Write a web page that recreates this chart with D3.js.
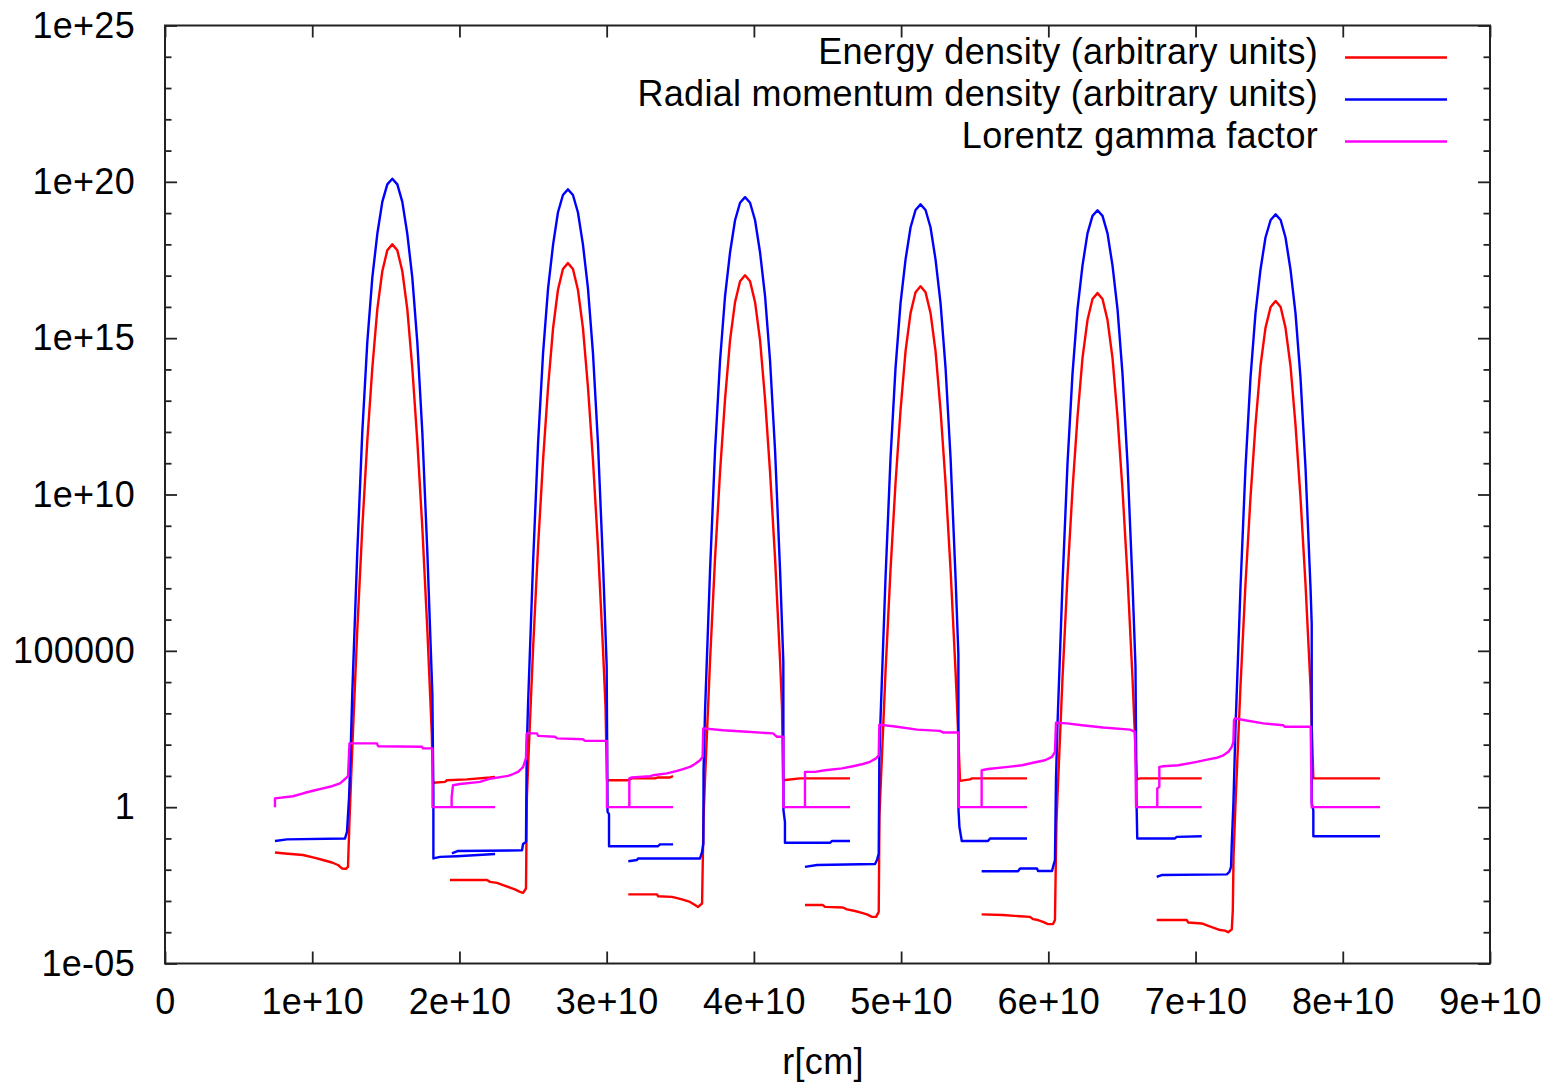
<!DOCTYPE html>
<html>
<head>
<meta charset="utf-8">
<script src="https://cdn.jsdelivr.net/npm/d3@7"></script>
<style>
  body { margin: 0; background: #fff; }
  svg text { font-family: "Liberation Sans", Arial, sans-serif; fill: #000; letter-spacing: 0.3px; }
</style>
</head>
<body>
<svg id="chart" width="1554" height="1085"></svg>
<script>
// Radial profiles of an expanding shell at six snapshots.
// Each point: [r in units of 1e10 cm, log10 of the plotted quantity].

const energy1 = [[0.747,-1.45],[0.815,-1.48],[0.937,-1.53],[1.019,-1.62],[1.073,-1.69],[1.134,-1.77],[1.175,-1.85],[1.202,-1.96],[1.229,-1.97],[1.243,-1.91],
  [1.253,-0.45],[1.272,1.88],[1.306,5.66],[1.340,8.93],[1.374,11.70],[1.408,14.03],[1.442,15.92],[1.476,17.14],[1.510,17.81],[1.544,18.00],[1.578,17.81],[1.612,17.14],[1.646,15.92],[1.680,14.03],[1.714,11.70],[1.748,8.93],[1.782,5.66],[1.812,2.37],
  [1.820,0.78],[1.902,0.81],[1.915,0.86],[2.051,0.89],[2.208,0.95],[2.242,0.97]];
const energy2 = [[1.936,-2.33],[2.187,-2.33],[2.208,-2.39],[2.255,-2.42],[2.296,-2.49],[2.343,-2.57],[2.377,-2.63],[2.411,-2.71],[2.432,-2.74],[2.452,-2.60],
  [2.458,0.30],[2.466,1.28],[2.500,5.06],[2.534,8.33],[2.568,11.10],[2.602,13.43],[2.636,15.32],[2.669,16.54],[2.703,17.21],[2.737,17.40],[2.771,17.21],[2.805,16.54],[2.839,15.32],[2.873,13.43],[2.907,11.10],[2.941,8.33],[2.975,5.06],[2.992,3.23],
  [3.002,0.86],[3.145,0.86],[3.172,0.92],[3.328,0.92],[3.349,0.95],[3.430,0.95],[3.451,0.99]];
const energy3 = [[3.147,-2.79],[3.342,-2.79],[3.349,-2.85],[3.444,-2.87],[3.512,-2.95],[3.566,-3.03],[3.600,-3.13],[3.621,-3.19],[3.648,-3.08],
  [3.658,-0.34],[3.668,0.89],[3.702,4.67],[3.736,7.94],[3.770,10.71],[3.804,13.04],[3.838,14.93],[3.872,16.15],[3.906,16.82],[3.940,17.01],[3.974,16.82],[4.008,16.15],[4.042,14.93],[4.076,13.04],[4.110,10.71],[4.144,7.94],[4.178,4.67],[4.191,3.21],
  [4.198,0.86],[4.313,0.92],[4.653,0.92]];
const energy4 = [[4.347,-3.13],[4.469,-3.13],[4.483,-3.19],[4.605,-3.21],[4.632,-3.27],[4.687,-3.32],[4.734,-3.38],[4.768,-3.43],[4.802,-3.51],[4.830,-3.51],[4.848,-3.35],
  [4.853,-0.27],[4.860,0.54],[4.894,4.32],[4.928,7.59],[4.962,10.36],[4.996,12.69],[5.030,14.58],[5.064,15.80],[5.098,16.47],[5.132,16.66],[5.166,16.47],[5.200,15.80],[5.234,14.58],[5.268,12.69],[5.302,10.36],[5.336,7.59],[5.370,4.32],[5.380,3.24],
  [5.400,0.84],[5.468,0.89],[5.482,0.92],[5.855,0.92]];
const energy5 = [[5.547,-3.43],[5.692,-3.45],[5.808,-3.49],[5.876,-3.51],[5.896,-3.58],[5.930,-3.61],[5.964,-3.67],[5.998,-3.74],[6.032,-3.74],[6.045,-3.61],
  [6.055,-0.49],[6.062,0.32],[6.096,4.10],[6.130,7.37],[6.164,10.14],[6.198,12.47],[6.232,14.36],[6.266,15.58],[6.300,16.25],[6.334,16.44],[6.368,16.25],[6.402,15.58],[6.436,14.36],[6.470,12.47],[6.504,10.14],[6.538,7.37],[6.572,4.10],[6.585,2.64],
  [6.600,0.89],[6.623,0.92],[7.042,0.92]];
const energy6 = [[6.736,-3.61],[6.940,-3.61],[6.951,-3.69],[7.042,-3.72],[7.087,-3.80],[7.120,-3.85],[7.166,-3.93],[7.200,-3.95],[7.222,-4.00],[7.246,-3.91],
  [7.253,-3.30],[7.258,-1.59],[7.271,0.07],[7.305,3.85],[7.339,7.12],[7.373,9.89],[7.407,12.22],[7.441,14.11],[7.475,15.33],[7.510,16.00],[7.544,16.19],[7.578,16.00],[7.611,15.33],[7.645,14.11],[7.679,12.22],[7.713,9.89],[7.747,7.12],[7.781,3.85],
  [7.800,0.92],[8.253,0.92]];

const momentum1 = [[0.747,-1.08],[0.829,-1.03],[1.223,-1.00],[1.236,-0.79],
  [1.250,0.30],[1.259,1.50],[1.272,3.63],[1.306,8.14],[1.340,11.98],[1.374,14.86],[1.408,16.93],[1.442,18.33],[1.476,19.36],[1.510,19.92],[1.544,20.10],[1.578,19.92],[1.612,19.36],[1.646,18.33],[1.680,16.93],[1.714,14.86],[1.748,11.98],[1.782,8.14],[1.816,3.63],[1.823,0.45],
  [1.823,-1.64],[1.868,-1.59],[1.983,-1.57],[2.242,-1.50]];
const momentum2 = [[1.949,-1.48],[1.990,-1.40],[2.425,-1.38],[2.432,-1.18],[2.452,-1.11],
  [2.457,1.87],[2.466,3.29],[2.500,7.80],[2.534,11.64],[2.568,14.52],[2.602,16.59],[2.636,17.99],[2.669,19.02],[2.703,19.58],[2.737,19.76],[2.771,19.58],[2.805,19.02],[2.839,17.99],[2.873,16.59],[2.907,14.52],[2.941,11.64],[2.975,7.80],[3.000,4.53],[3.006,-0.15],[3.016,-0.22],
  [3.016,-1.25],[3.349,-1.25],[3.362,-1.19],[3.451,-1.19]];
const momentum3 = [[3.147,-1.73],[3.206,-1.69],[3.213,-1.64],[3.634,-1.64],[3.648,-1.43],[3.657,-1.16],
  [3.658,1.16],[3.668,3.04],[3.702,7.55],[3.736,11.39],[3.770,14.27],[3.804,16.34],[3.838,17.74],[3.872,18.77],[3.906,19.33],[3.940,19.51],[3.974,19.33],[4.008,18.77],[4.042,17.74],[4.076,16.34],[4.110,14.27],[4.144,11.39],[4.178,7.55],[4.200,4.64],[4.201,-0.10],[4.211,-0.48],
  [4.211,-1.14],[4.517,-1.14],[4.531,-1.08],[4.653,-1.08]];
const momentum4 = [[4.347,-1.91],[4.429,-1.85],[4.823,-1.82],[4.836,-1.69],[4.848,-1.48],
  [4.852,1.48],[4.860,2.81],[4.894,7.32],[4.928,11.16],[4.962,14.04],[4.996,16.11],[5.030,17.51],[5.064,18.54],[5.098,19.10],[5.132,19.28],[5.166,19.10],[5.200,18.54],[5.234,17.51],[5.268,16.11],[5.302,14.04],[5.336,11.16],[5.370,7.32],[5.389,4.88],[5.390,-0.10],[5.396,-0.63],
  [5.412,-1.08],[5.590,-1.08],[5.604,-1.00],[5.855,-1.00]];
const momentum5 = [[5.547,-2.05],[5.794,-2.05],[5.808,-1.96],[5.923,-1.96],[5.930,-2.04],[6.025,-2.04],[6.032,-1.91],[6.045,-1.69],
  [6.052,0.92],[6.062,2.62],[6.096,7.13],[6.130,10.97],[6.164,13.85],[6.198,15.92],[6.232,17.32],[6.266,18.35],[6.300,18.91],[6.334,19.09],[6.368,18.91],[6.402,18.35],[6.436,17.32],[6.470,15.92],[6.504,13.85],[6.538,10.97],[6.572,7.13],[6.592,4.50],[6.599,0.17],
  [6.604,-1.00],[6.860,-1.00],[6.872,-0.95],[7.042,-0.93]];
const momentum6 = [[6.736,-2.23],[6.770,-2.17],[7.212,-2.15],[7.230,-2.07],[7.241,-1.91],[7.246,-1.16],
  [7.257,0.11],[7.271,2.49],[7.305,7.00],[7.339,10.84],[7.373,13.72],[7.407,15.79],[7.441,17.19],[7.475,18.22],[7.510,18.78],[7.544,18.96],[7.578,18.78],[7.611,18.22],[7.645,17.19],[7.679,15.79],[7.713,13.72],[7.747,10.84],[7.781,7.00],[7.789,5.86],[7.789,0.13],[7.800,-0.10],
  [7.800,-0.93],[8.253,-0.93]];

const gamma1 = [[0.747,0],[0.747,0.28],[0.869,0.35],[0.951,0.46],[1.019,0.54],[1.073,0.60],[1.134,0.67],[1.189,0.76],[1.223,0.90],[1.243,0.99],
  [1.253,2.04],[1.440,2.04],[1.447,1.95],[1.746,1.93],[1.752,1.88],[1.817,1.88],
  [1.817,0],[2.242,0]];
const gamma2 = [[1.947,0],[1.947,0.33],[1.956,0.70],[2.004,0.74],[2.140,0.81],[2.208,0.91],[2.276,0.96],[2.330,1.00],[2.364,1.06],[2.398,1.13],[2.432,1.28],[2.452,1.57],
  [2.457,2.36],[2.527,2.36],[2.534,2.28],[2.649,2.25],[2.663,2.20],[2.839,2.17],[2.853,2.12],[3.002,2.12],
  [3.002,0],[3.451,0]];
const gamma3 = [[3.154,0],[3.154,0.92],[3.170,0.95],[3.294,0.99],[3.315,1.02],[3.410,1.08],[3.478,1.16],[3.519,1.22],[3.566,1.29],[3.600,1.38],[3.634,1.50],[3.652,1.61],
  [3.656,2.52],[3.790,2.46],[3.953,2.41],[4.130,2.36],[4.157,2.25],[4.200,2.25],
  [4.200,0],[4.653,0]];
const gamma4 = [[4.347,0],[4.347,1.13],[4.415,1.13],[4.483,1.18],[4.599,1.24],[4.673,1.31],[4.741,1.38],[4.789,1.45],[4.830,1.56],[4.848,1.66],
  [4.852,2.64],[4.972,2.57],[5.108,2.48],[5.264,2.44],[5.285,2.39],[5.389,2.39],
  [5.389,0],[5.855,0]];
const gamma5 = [[5.547,0],[5.547,1.18],[5.590,1.22],[5.726,1.29],[5.821,1.34],[5.896,1.42],[5.977,1.50],[6.025,1.61],[6.045,1.77],
  [6.052,2.70],[6.127,2.68],[6.229,2.62],[6.371,2.55],[6.555,2.48],[6.589,2.41],
  [6.596,0],[7.042,0]];
const gamma6 = [[6.740,0],[6.740,0.60],[6.754,0.65],[6.754,1.29],[6.781,1.31],[6.883,1.34],[7.008,1.45],[7.087,1.53],[7.144,1.58],[7.189,1.66],[7.223,1.77],[7.246,1.93],[7.257,2.09],
  [7.261,2.78],[7.268,2.84],[7.336,2.78],[7.460,2.68],[7.596,2.62],[7.607,2.57],[7.782,2.57],
  [7.789,0],[8.253,0]];

const seriesNames = ["Energy density (arbitrary units)", "Radial momentum density (arbitrary units)", "Lorentz gamma factor"];
const seriesColors = ["#ff0000", "#0000ff", "#ff00ff"];
const seriesData = [
  [energy1, energy2, energy3, energy4, energy5, energy6],
  [momentum1, momentum2, momentum3, momentum4, momentum5, momentum6],
  [gamma1, gamma2, gamma3, gamma4, gamma5, gamma6]
];

const xTickValues = [0, 1e10, 2e10, 3e10, 4e10, 5e10, 6e10, 7e10, 8e10, 9e10];
const xTickLabels = ["0", "1e+10", "2e+10", "3e+10", "4e+10", "5e+10", "6e+10", "7e+10", "8e+10", "9e+10"];
const yTickValues = [1e-5, 1, 1e5, 1e10, 1e15, 1e20, 1e25];
const yTickLabels = ["1e-05", "1", "100000", "1e+10", "1e+15", "1e+20", "1e+25"];
const yMinorExponents = d3.range(-5, 26).filter(e => e % 5 !== 0);
const xAxisTitle = "r[cm]";

// ---- layout ----
const plot = { left: 165, right: 1490, top: 25.5, bottom: 963.5 };
const fontSize = 36;
const majorTick = 12, minorTick = 6.5;

const svg = d3.select("#chart");
const x = d3.scaleLinear().domain([0, 9e10]).range([plot.left, plot.right]);
const y = d3.scaleLog().domain([1e-5, 1e25]).range([plot.bottom, plot.top]);

// curves: energy first, gamma on top
const line = d3.line()
  .x(d => x(d[0] * 1e10))
  .y(d => y(Math.pow(10, d[1])));

const curves = svg.append("g").attr("fill", "none")
  .attr("stroke-width", 2.4).attr("stroke-linejoin", "round").attr("stroke-linecap", "butt");
seriesData.forEach((blocks, i) => {
  curves.append("g").attr("stroke", seriesColors[i])
    .selectAll("path").data(blocks).join("path").attr("d", line);
});

// ---- axes: ticks point inward on all four sides ----
function styleAxis(g) {
  g.select(".domain").remove();
  g.selectAll(".tick line").attr("stroke", "#222").attr("stroke-width", 1.8);
  g.selectAll(".tick text").attr("font-size", fontSize).attr("fill", "#000")
    .attr("font-family", "Liberation Sans, Arial, sans-serif");
}

svg.append("g").attr("transform", `translate(${plot.left},0)`)
  .call(d3.axisLeft(y).tickValues(yTickValues).tickSize(-majorTick).tickPadding(30)
    .tickFormat((d, i) => yTickLabels[i]))
  .call(styleAxis);

svg.append("g").attr("transform", `translate(${plot.left},0)`)
  .call(d3.axisLeft(y).tickValues(yMinorExponents.map(e => Math.pow(10, e))).tickSize(-minorTick).tickFormat(""))
  .call(styleAxis);

svg.append("g").attr("transform", `translate(${plot.right},0)`)
  .call(d3.axisRight(y).tickValues(yTickValues).tickSize(-majorTick).tickFormat(""))
  .call(styleAxis);

svg.append("g").attr("transform", `translate(${plot.right},0)`)
  .call(d3.axisRight(y).tickValues(yMinorExponents.map(e => Math.pow(10, e))).tickSize(-minorTick).tickFormat(""))
  .call(styleAxis);

svg.append("g").attr("transform", `translate(0,${plot.bottom})`)
  .call(d3.axisBottom(x).tickValues(xTickValues).tickSize(-majorTick).tickPadding(25)
    .tickFormat((d, i) => xTickLabels[i]))
  .call(styleAxis);

svg.append("g").attr("transform", `translate(0,${plot.top})`)
  .call(d3.axisTop(x).tickValues(xTickValues).tickSize(-majorTick).tickFormat(""))
  .call(styleAxis);

// frame
svg.append("rect")
  .attr("x", plot.left).attr("y", plot.top)
  .attr("width", plot.right - plot.left).attr("height", plot.bottom - plot.top)
  .attr("fill", "none").attr("stroke", "#222").attr("stroke-width", 2);

// x axis title
svg.append("text")
  .attr("x", 823).attr("y", 1074)
  .attr("text-anchor", "middle").attr("font-size", fontSize)
  .text(xAxisTitle);

// ---- key (top right, inside the frame) ----
const key = svg.append("g");
seriesNames.forEach((name, i) => {
  const ky = 57.5 + i * 42;
  key.append("text")
    .attr("x", 1318).attr("y", ky + 6)
    .attr("text-anchor", "end").attr("font-size", fontSize)
    .text(name);
  key.append("line")
    .attr("x1", 1345).attr("x2", 1447).attr("y1", ky).attr("y2", ky)
    .attr("stroke", seriesColors[i]).attr("stroke-width", 2.4);
});
</script>
</body>
</html>
